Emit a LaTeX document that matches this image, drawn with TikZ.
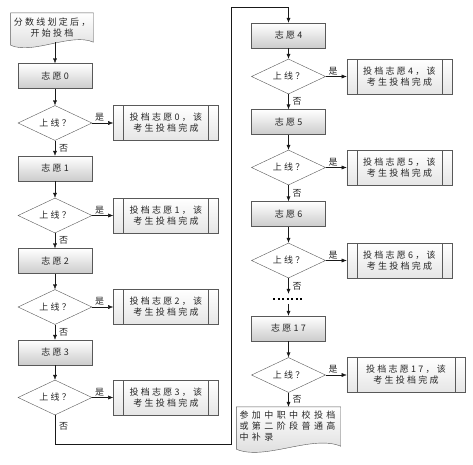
\documentclass[tikz,border=0pt]{standalone}
\usepackage{fontspec}
\setmainfont{Noto Sans CJK SC}[LetterSpace=25]
\usetikzlibrary{arrows.meta,positioning,shapes.geometric,backgrounds}

\begin{document}
\begin{tikzpicture}[
  x=1pt,y=-1pt,
  font=\fontsize{9}{11}\selectfont,
  every node/.style={text=black!85},
  proc/.style={draw=black!65,top color=white,bottom color=black!20,minimum width=74pt,minimum height=25pt,inner sep=1pt},
  choice/.style={draw=black!65,diamond,aspect=2,minimum width=74pt,minimum height=35pt,inner sep=0pt},
  done/.style={draw=black!65,top color=white,bottom color=black!10,minimum width=105pt,minimum height=35pt,align=center,inner sep=1pt,
    path picture={\draw[black!65] ([xshift=10pt]path picture bounding box.north west) -- ([xshift=10pt]path picture bounding box.south west)
      ([xshift=-10pt]path picture bounding box.north east) -- ([xshift=-10pt]path picture bounding box.south east);}},
  doc/.style={inner sep=3pt},
  docline/.style={draw=black!65,top color=white,bottom color=black!15},
  arr/.style={-{Latex[length=5pt,width=4pt]},black!90},
  lbl/.style={inner sep=1.5pt},
  nolbl/.style={inner sep=4pt}
]
\useasboundingbox (0,0) rectangle (473,464);

% left column
\node[doc,minimum width=80pt,minimum height=29pt,align=center] (start) at (52,27.5) {分数线划定后，\\开始投档};
\node[proc] (v0) at (55,76) {志愿0};
\node[choice] (d0) at (55,123) {上线？};
\node[done,right=21pt of d0] (r0) {投档志愿0，该\\考生投档完成};
\node[proc] (v1) at (55,168.5) {志愿1};
\node[choice] (d1) at (55,215.5) {上线？};
\node[done,right=21pt of d1] (r1) {投档志愿1，该\\考生投档完成};
\node[proc] (v2) at (55,261) {志愿2};
\node[choice] (d2) at (55,307) {上线？};
\node[done,right=21pt of d2] (r2) {投档志愿2，该\\考生投档完成};
\node[proc] (v3) at (55,352.5) {志愿3};
\node[choice] (d3) at (55,397.5) {上线？};
\node[done,right=21pt of d3] (r3) {投档志愿3，该\\考生投档完成};

% right column
\node[proc] (v4) at (288.5,35.5) {志愿4};
\node[choice] (d4) at (288.5,76.5) {上线？};
\node[done,right=21pt of d4] (r4) {投档志愿4，该\\考生投档完成};
\node[proc] (v5) at (288.5,122) {志愿5};
\node[choice] (d5) at (288.5,167.5) {上线？};
\node[done,right=21pt of d5] (r5) {投档志愿5，该\\考生投档完成};
\node[proc] (v6) at (288.5,214) {志愿6};
\node[choice] (d6) at (288.5,260.5) {上线？};
\node[done,right=21pt of d6] (r6) {投档志愿6，该\\考生投档完成};
\node[minimum width=30pt,minimum height=10pt,inner sep=0pt] (dots) at (288.5,299) {};
\node[proc] (v17) at (288.5,328.5) {志愿17};
\node[choice] (d17) at (288.5,375) {上线？};
\node[done,minimum width=118pt,right=21pt of d17] (r17) {投档志愿17，该\\考生投档完成};
\node[doc,text width=98pt,minimum height=39pt,align=left] (finish) at (288.5,426.5)
  {\addfontfeatures{LetterSpace=38}参加中职中校投档\\或第二阶段普通高\\中补录};

\coordinate (turnA) at (231,444);
\coordinate (turnB) at (231,7);

% document outlines
\begin{pgfonlayer}{background}
\shade[docline] (start.north west) -- (start.north east) -- (start.south east)
  .. controls +(-22pt,10pt) and +(22pt,-10pt) .. ([yshift=-3pt]start.south west) -- cycle;
\shade[docline] (finish.north west) -- (finish.north east) -- (finish.south east)
  .. controls +(-28pt,12pt) and +(28pt,-12pt) .. ([yshift=-3pt]finish.south west) -- cycle;
\end{pgfonlayer}

\draw[arr] (start.south -| v0) -- (v0);
\draw[arr] (v0) -- (d0);
\draw[arr] (d0) -- node[lbl,above,pos=0.35]{是} (r0);
\draw[arr] (d0) -- node[nolbl,right,pos=0.5]{否} (v1);
\draw[arr] (v1) -- (d1);
\draw[arr] (d1) -- node[lbl,above,pos=0.35]{是} (r1);
\draw[arr] (d1) -- node[nolbl,right,pos=0.5]{否} (v2);
\draw[arr] (v2) -- (d2);
\draw[arr] (d2) -- node[lbl,above,pos=0.35]{是} (r2);
\draw[arr] (d2) -- node[nolbl,right,pos=0.5]{否} (v3);
\draw[arr] (v3) -- (d3);
\draw[arr] (d3) -- node[lbl,above,pos=0.35]{是} (r3);
\draw[arr] (d3.south) |- node[nolbl,right,pos=0.2]{否} (turnA) -- (turnB) -| (v4.north);

\draw[arr] (v4) -- (d4);
\draw[arr] (d4) -- node[lbl,above,pos=0.35]{是} (r4);
\draw[arr] (d4) -- node[nolbl,right,pos=0.5]{否} (v5);
\draw[arr] (v5) -- (d5);
\draw[arr] (d5) -- node[lbl,above,pos=0.35]{是} (r5);
\draw[arr] (d5) -- node[nolbl,right,pos=0.5]{否} (v6);
\draw[arr] (v6) -- (d6);
\draw[arr] (d6) -- node[lbl,above,pos=0.35]{是} (r6);
\draw[arr] (d6) -- node[nolbl,right,pos=0.55]{否} (dots);
\draw[line width=1.6pt,dash pattern=on 2pt off 2.5pt] (dots.west) -- (dots.east);
\draw[arr] (dots) -- (v17);
\draw[arr] (v17) -- (d17);
\draw[arr] (d17) -- node[lbl,above,pos=0.35]{是} (r17);
\draw[arr] (d17) -- node[nolbl,right,pos=0.45]{否} (finish);
\end{tikzpicture}
\end{document}
